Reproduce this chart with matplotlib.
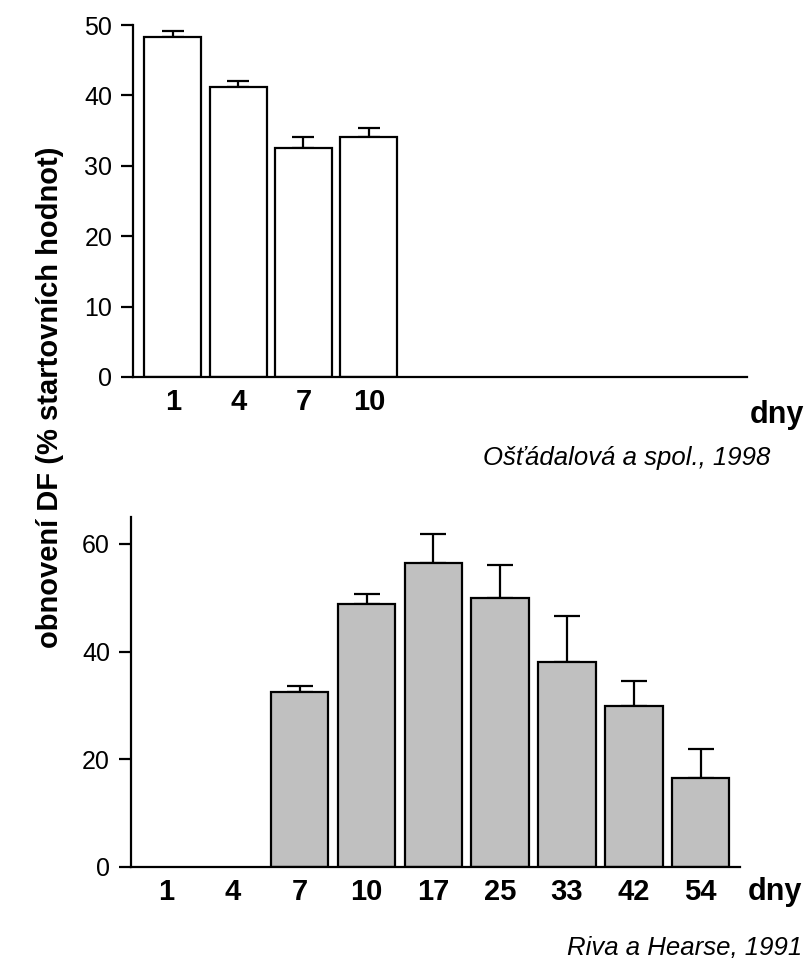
import numpy as np
from matplotlib import pyplot as plt

plt.rcParams['font.family'] = ['Liberation Sans', 'DejaVu Sans']

# top panel (Ošťádalová a spol., 1998)
top_days = ['1', '4', '7', '10']
top_vals = [48.3, 41.2, 32.5, 34.1]
top_err = [0.9, 0.9, 1.6, 1.2]

# bottom panel (Riva a Hearse, 1991); None = no bar
bot_days = ['1', '4', '7', '10', '17', '25', '33', '42', '54']
bot_vals = [None, None, 32.5, 48.9, 56.4, 50.0, 38.1, 29.9, 16.5]
bot_err = [None, None, 1.1, 1.8, 5.5, 6.0, 8.5, 4.7, 5.4]

fig = plt.figure(figsize=(8.07, 9.58), dpi=100)


def style_axes(ax, yticks, ylim, xlim, labels):
    for s in ['top', 'right']:
        ax.spines[s].set_visible(False)
    for s in ['left', 'bottom']:
        ax.spines[s].set_linewidth(1.6)
    ax.set_ylim(*ylim)
    ax.set_xlim(*xlim)
    ax.set_yticks(yticks)
    ax.tick_params(axis='y', direction='out', length=9, width=1.6,
                   labelsize=18, pad=6)
    ax.set_xticks(range(len(labels)))
    ax.set_xticklabels(labels, fontsize=21, fontweight='bold')
    ax.tick_params(axis='x', length=0, pad=8)


ax1 = fig.add_axes([0.1648, 0.6065, 0.7609, 0.3674])
x1 = np.arange(len(top_days))
ax1.bar(x1, top_vals, width=0.87, color='white', edgecolor='black',
        linewidth=1.6, zorder=2)
ax1.errorbar(x1, top_vals, yerr=[np.zeros(len(top_err)), top_err], fmt='none',
             ecolor='black', elinewidth=1.6, capsize=8, capthick=1.6, zorder=1)
style_axes(ax1, [0, 10, 20, 30, 40, 50], (0, 50), (-0.61, 8.79), top_days)

ax2 = fig.add_axes([0.162, 0.0953, 0.755, 0.365])
idx = [i for i, v in enumerate(bot_vals) if v is not None]
vals = [bot_vals[i] for i in idx]
errs = [bot_err[i] for i in idx]
ax2.bar(idx, vals, width=0.86, color='#c0c0c0', edgecolor='black',
        linewidth=1.6, zorder=2)
ax2.errorbar(idx, vals, yerr=[np.zeros(len(errs)), errs], fmt='none',
             ecolor='black', elinewidth=1.6, capsize=9.5, capthick=1.6, zorder=1)
style_axes(ax2, [0, 20, 40, 60], (0, 65), (-0.53, 8.59), bot_days)

fig.text(0.963, 1 - 415 / 958, 'dny', fontsize=22, fontweight='bold',
         ha='center', va='center')
fig.text(0.960, 1 - 892 / 958, 'dny', fontsize=22, fontweight='bold',
         ha='center', va='center')
fig.text(0.955, 1 - 458 / 958, 'Ošťádalová a spol., 1998', fontsize=18.5,
         style='italic', ha='right', va='center')
fig.text(0.994, 1 - 947 / 958, 'Riva a Hearse, 1991', fontsize=18.5,
         style='italic', ha='right', va='center')
fig.text(0.062, 1 - 397 / 958, 'obnovení DF (% startovních hodnot)',
         fontsize=21, fontweight='bold', rotation=90, ha='center', va='center')

plt.savefig('out.png', dpi=100)
